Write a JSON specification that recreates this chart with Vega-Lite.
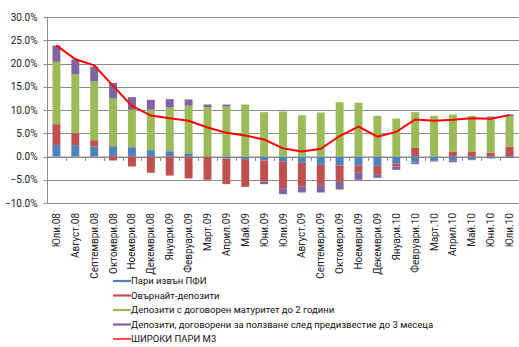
{
  "$schema": "https://vega.github.io/schema/vega-lite/v6.json",
  "width": 472,
  "height": 186,
  "autosize": {"type": "none"},
  "padding": {"left": 47, "top": 17, "right": 0, "bottom": 144},
  "background": "white",
  "config": {
    "font": "Roboto",
    "view": {"stroke": null},
    "axis": {"labelFont": "Roboto", "labelColor": "#222222", "labelFontSize": 10}
  },
  "data": {
    "values": [
      {"month": "Юли.08", "series": "Пари извън ПФИ", "value": 2.5},
      {"month": "Юли.08", "series": "Овърнайт-депозити", "value": 4.45},
      {"month": "Юли.08", "series": "Депозити с договорен матуритет до 2 години", "value": 13.41},
      {"month": "Юли.08", "series": "Депозити, договорени за ползване след предизвестие до 3 месеца", "value": 3.51},
      {"month": "Юли.08", "series": "ШИРОКИ ПАРИ М3", "value": 23.9},
      {"month": "Август.08", "series": "Пари извън ПФИ", "value": 2.44},
      {"month": "Август.08", "series": "Овърнайт-депозити", "value": 2.58},
      {"month": "Август.08", "series": "Депозити с договорен матуритет до 2 години", "value": 12.61},
      {"month": "Август.08", "series": "Депозити, договорени за ползване след предизвестие до 3 месеца", "value": 3.23},
      {"month": "Август.08", "series": "ШИРОКИ ПАРИ М3", "value": 20.9},
      {"month": "Септември.08", "series": "Пари извън ПФИ", "value": 2.15},
      {"month": "Септември.08", "series": "Овърнайт-депозити", "value": 1.36},
      {"month": "Септември.08", "series": "Депозити с договорен матуритет до 2 години", "value": 12.62},
      {"month": "Септември.08", "series": "Депозити, договорени за ползване след предизвестие до 3 месеца", "value": 3.22},
      {"month": "Септември.08", "series": "ШИРОКИ ПАРИ М3", "value": 19.6},
      {"month": "Октомври.08", "series": "Пари извън ПФИ", "value": 2.22},
      {"month": "Октомври.08", "series": "Овърнайт-депозити", "value": -0.86},
      {"month": "Октомври.08", "series": "Депозити с договорен матуритет до 2 години", "value": 10.25},
      {"month": "Октомври.08", "series": "Депозити, договорени за ползване след предизвестие до 3 месеца", "value": 3.37},
      {"month": "Октомври.08", "series": "ШИРОКИ ПАРИ М3", "value": 15.2},
      {"month": "Ноември.08", "series": "Пари извън ПФИ", "value": 2.0},
      {"month": "Ноември.08", "series": "Овърнайт-депозити", "value": -2.15},
      {"month": "Ноември.08", "series": "Депозити с договорен матуритет до 2 години", "value": 8.04},
      {"month": "Ноември.08", "series": "Депозити, договорени за ползване след предизвестие до 3 месеца", "value": 2.72},
      {"month": "Ноември.08", "series": "ШИРОКИ ПАРИ М3", "value": 10.9},
      {"month": "Декември.08", "series": "Пари извън ПФИ", "value": 1.36},
      {"month": "Декември.08", "series": "Овърнайт-депозити", "value": -3.5},
      {"month": "Декември.08", "series": "Депозити с договорен матуритет до 2 години", "value": 8.68},
      {"month": "Декември.08", "series": "Депозити, договорени за ползване след предизвестие до 3 месеца", "value": 2.15},
      {"month": "Декември.08", "series": "ШИРОКИ ПАРИ М3", "value": 8.8},
      {"month": "Януари.09", "series": "Пари извън ПФИ", "value": 1.15},
      {"month": "Януари.09", "series": "Овърнайт-депозити", "value": -4.1},
      {"month": "Януари.09", "series": "Депозити с договорен матуритет до 2 години", "value": 9.39},
      {"month": "Януари.09", "series": "Депозити, договорени за ползване след предизвестие до 3 месеца", "value": 1.79},
      {"month": "Януари.09", "series": "ШИРОКИ ПАРИ М3", "value": 8.25},
      {"month": "Февруари.09", "series": "Пари извън ПФИ", "value": 0.7},
      {"month": "Февруари.09", "series": "Овърнайт-депозити", "value": -4.72},
      {"month": "Февруари.09", "series": "Депозити с договорен матуритет до 2 години", "value": 10.23},
      {"month": "Февруари.09", "series": "Депозити, договорени за ползване след предизвестие до 3 месеца", "value": 1.33},
      {"month": "Февруари.09", "series": "ШИРОКИ ПАРИ М3", "value": 7.7},
      {"month": "Март.09", "series": "Пари извън ПФИ", "value": 0.05},
      {"month": "Март.09", "series": "Овърнайт-депозити", "value": -5.0},
      {"month": "Март.09", "series": "Депозити с договорен матуритет до 2 години", "value": 10.5},
      {"month": "Март.09", "series": "Депозити, договорени за ползване след предизвестие до 3 месеца", "value": 0.64},
      {"month": "Март.09", "series": "ШИРОКИ ПАРИ М3", "value": 6.25},
      {"month": "Април.09", "series": "Пари извън ПФИ", "value": -0.43},
      {"month": "Април.09", "series": "Овърнайт-депозити", "value": -5.52},
      {"month": "Април.09", "series": "Депозити с договорен матуритет до 2 години", "value": 10.75},
      {"month": "Април.09", "series": "Депозити, договорени за ползване след предизвестие до 3 месеца", "value": 0.43},
      {"month": "Април.09", "series": "ШИРОКИ ПАРИ М3", "value": 5.1},
      {"month": "Май.09", "series": "Пари извън ПФИ", "value": -0.57},
      {"month": "Май.09", "series": "Овърнайт-депозити", "value": -5.95},
      {"month": "Май.09", "series": "Депозити с договорен матуритет до 2 години", "value": 11.1},
      {"month": "Май.09", "series": "Депозити, договорени за ползване след предизвестие до 3 месеца", "value": 0.05},
      {"month": "Май.09", "series": "ШИРОКИ ПАРИ М3", "value": 4.5},
      {"month": "Юни.09", "series": "Пари извън ПФИ", "value": -0.86},
      {"month": "Юни.09", "series": "Овърнайт-депозити", "value": -4.52},
      {"month": "Юни.09", "series": "Депозити с договорен матуритет до 2 години", "value": 9.53},
      {"month": "Юни.09", "series": "Депозити, договорени за ползване след предизвестие до 3 месеца", "value": -0.57},
      {"month": "Юни.09", "series": "ШИРОКИ ПАРИ М3", "value": 3.65},
      {"month": "Юли.09", "series": "Пари извън ПФИ", "value": -1.08},
      {"month": "Юли.09", "series": "Овърнайт-депозити", "value": -5.87},
      {"month": "Юли.09", "series": "Депозити с договорен матуритет до 2 години", "value": 9.68},
      {"month": "Юли.09", "series": "Депозити, договорени за ползване след предизвестие до 3 месеца", "value": -1.15},
      {"month": "Юли.09", "series": "ШИРОКИ ПАРИ М3", "value": 1.75},
      {"month": "Август.09", "series": "Пари извън ПФИ", "value": -1.36},
      {"month": "Август.09", "series": "Овърнайт-депозити", "value": -5.09},
      {"month": "Август.09", "series": "Депозити с договорен матуритет до 2 години", "value": 8.89},
      {"month": "Август.09", "series": "Депозити, договорени за ползване след предизвестие до 3 месеца", "value": -1.29},
      {"month": "Август.09", "series": "ШИРОКИ ПАРИ М3", "value": 1.1},
      {"month": "Септември.09", "series": "Пари извън ПФИ", "value": -1.79},
      {"month": "Септември.09", "series": "Овърнайт-депозити", "value": -4.37},
      {"month": "Септември.09", "series": "Депозити с договорен матуритет до 2 години", "value": 9.46},
      {"month": "Септември.09", "series": "Депозити, договорени за ползване след предизвестие до 3 месеца", "value": -1.58},
      {"month": "Септември.09", "series": "ШИРОКИ ПАРИ М3", "value": 1.65},
      {"month": "Октомври.09", "series": "Пари извън ПФИ", "value": -1.94},
      {"month": "Октомври.09", "series": "Овърнайт-депозити", "value": -3.51},
      {"month": "Октомври.09", "series": "Депозити с договорен матуритет до 2 години", "value": 11.68},
      {"month": "Октомври.09", "series": "Депозити, договорени за ползване след предизвестие до 3 месеца", "value": -1.65},
      {"month": "Октомври.09", "series": "ШИРОКИ ПАРИ М3", "value": 4.4},
      {"month": "Ноември.09", "series": "Пари извън ПФИ", "value": -1.94},
      {"month": "Ноември.09", "series": "Овърнайт-депозити", "value": -1.57},
      {"month": "Ноември.09", "series": "Депозити с договорен матуритет до 2 години", "value": 11.54},
      {"month": "Ноември.09", "series": "Депозити, договорени за ползване след предизвестие до 3 месеца", "value": -1.51},
      {"month": "Ноември.09", "series": "ШИРОКИ ПАРИ М3", "value": 6.45},
      {"month": "Декември.09", "series": "Пари извън ПФИ", "value": -2.0},
      {"month": "Декември.09", "series": "Овърнайт-депозити", "value": -1.94},
      {"month": "Декември.09", "series": "Депозити с договорен матуритет до 2 години", "value": 8.75},
      {"month": "Декември.09", "series": "Депозити, договорени за ползване след предизвестие до 3 месеца", "value": -0.65},
      {"month": "Декември.09", "series": "ШИРОКИ ПАРИ М3", "value": 4.25},
      {"month": "Януари.10", "series": "Пари извън ПФИ", "value": -1.5},
      {"month": "Януари.10", "series": "Овърнайт-депозити", "value": -0.65},
      {"month": "Януари.10", "series": "Депозити с договорен матуритет до 2 години", "value": 8.17},
      {"month": "Януари.10", "series": "Депозити, договорени за ползване след предизвестие до 3 месеца", "value": -0.72},
      {"month": "Януари.10", "series": "ШИРОКИ ПАРИ М3", "value": 5.3},
      {"month": "Февруари.10", "series": "Пари извън ПФИ", "value": -1.29},
      {"month": "Февруари.10", "series": "Овърнайт-депозити", "value": 1.86},
      {"month": "Февруари.10", "series": "Депозити с договорен матуритет до 2 години", "value": 7.67},
      {"month": "Февруари.10", "series": "Депозити, договорени за ползване след предизвестие до 3 месеца", "value": -0.36},
      {"month": "Февруари.10", "series": "ШИРОКИ ПАРИ М3", "value": 7.95},
      {"month": "Март.10", "series": "Пари извън ПФИ", "value": -0.93},
      {"month": "Март.10", "series": "Овърнайт-депозити", "value": 0.05},
      {"month": "Март.10", "series": "Депозити с договорен матуритет до 2 години", "value": 8.7},
      {"month": "Март.10", "series": "Депозити, договорени за ползване след предизвестие до 3 месеца", "value": -0.15},
      {"month": "Март.10", "series": "ШИРОКИ ПАРИ М3", "value": 7.7},
      {"month": "Април.10", "series": "Пари извън ПФИ", "value": -0.79},
      {"month": "Април.10", "series": "Овърнайт-депозити", "value": 1.08},
      {"month": "Април.10", "series": "Депозити с договорен матуритет до 2 години", "value": 7.95},
      {"month": "Април.10", "series": "Депозити, договорени за ползване след предизвестие до 3 месеца", "value": -0.43},
      {"month": "Април.10", "series": "ШИРОКИ ПАРИ М3", "value": 7.9},
      {"month": "Май.10", "series": "Пари извън ПФИ", "value": -0.57},
      {"month": "Май.10", "series": "Овърнайт-депозити", "value": 1.08},
      {"month": "Май.10", "series": "Депозити с договорен матуритет до 2 години", "value": 7.67},
      {"month": "Май.10", "series": "Депозити, договорени за ползване след предизвестие до 3 месеца", "value": -0.22},
      {"month": "Май.10", "series": "ШИРОКИ ПАРИ М3", "value": 8.2},
      {"month": "Юни.10", "series": "Пари извън ПФИ", "value": -0.43},
      {"month": "Юни.10", "series": "Овърнайт-депозити", "value": 0.86},
      {"month": "Юни.10", "series": "Депозити с договорен матуритет до 2 години", "value": 7.53},
      {"month": "Юни.10", "series": "Депозити, договорени за ползване след предизвестие до 3 месеца", "value": 0.21},
      {"month": "Юни.10", "series": "ШИРОКИ ПАРИ М3", "value": 8.1},
      {"month": "Юли.10", "series": "Пари извън ПФИ", "value": -0.29},
      {"month": "Юли.10", "series": "Овърнайт-депозити", "value": 2.15},
      {"month": "Юли.10", "series": "Депозити с договорен матуритет до 2 години", "value": 6.45},
      {"month": "Юли.10", "series": "Депозити, договорени за ползване след предизвестие до 3 месеца", "value": 0.43},
      {"month": "Юли.10", "series": "ШИРОКИ ПАРИ М3", "value": 8.9}
    ]
  },
  "transform": [
    {"calculate": "indexof(['Пари извън ПФИ', 'Овърнайт-депозити', 'Депозити с договорен матуритет до 2 години', 'Депозити, договорени за ползване след предизвестие до 3 месеца', 'ШИРОКИ ПАРИ М3'], datum.series)", "as": "rank"}
  ],
  "encoding": {
    "x": {
      "field": "month",
      "type": "nominal",
      "sort": null,
      "scale": {"paddingInner": 0, "paddingOuter": 0},
      "axis": {
        "title": null,
        "labelAngle": -90,
        "offset": -46.5,
        "domain": true,
        "domainColor": "#8c8c8c",
        "ticks": true,
        "tickBand": "extent",
        "tickSize": 4,
        "tickColor": "#8c8c8c",
        "labelPadding": 52,
        "labelOverlap": false,
        "grid": false
      }
    },
    "y": {
      "field": "value",
      "type": "quantitative",
      "scale": {"domain": [-10, 30], "nice": false, "zero": false},
      "axis": {
        "title": null,
        "values": [-10, -5, 0, 5, 10, 15, 20, 25, 30],
        "labelExpr": "format(datum.value, '.1f') + '%'",
        "labelOverlap": false,
        "grid": true,
        "gridColor": "#8c8c8c",
        "gridWidth": 1,
        "domain": true,
        "domainColor": "#8c8c8c",
        "ticks": true,
        "tickSize": 4,
        "tickColor": "#8c8c8c",
        "labelPadding": 6
      }
    },
    "color": {
      "field": "series",
      "type": "nominal",
      "scale": {
        "domain": ["Пари извън ПФИ", "Овърнайт-депозити", "Депозити с договорен матуритет до 2 години", "Депозити, договорени за ползване след предизвестие до 3 месеца", "ШИРОКИ ПАРИ М3"],
        "range": ["#4F81BD", "#C0504D", "#9BBB59", "#8064A2", "#FF0000"]
      },
      "legend": {
        "title": null,
        "orient": "none",
        "legendX": 70,
        "legendY": 259,
        "direction": "vertical",
        "labelFont": "Roboto",
        "labelFontSize": 9.5,
        "labelColor": "#111111",
        "labelOffset": 4,
        "labelLimit": 400,
        "rowPadding": 4.5,
        "symbolSize": 100,
        "symbolStrokeWidth": 0,
        "symbolOpacity": 1,
        "encode": {
          "symbols": {
            "update": {
              "shape": {"signal": "datum.value === 'ШИРОКИ ПАРИ М3' ? 'M-1.8,-0.14H1.8V0.14H-1.8Z' : 'M-1.8,-0.22H1.8V0.22H-1.8Z'"},
              "fill": {"signal": "scale('color', datum.value)"},
              "strokeWidth": {"value": 0},
              "opacity": {"value": 1}
            }
          }
        }
      }
    }
  },
  "layer": [
    {
      "transform": [{"filter": "datum.series !== 'ШИРОКИ ПАРИ М3'"}],
      "mark": {"type": "bar", "width": {"band": 0.42}},
      "encoding": {
        "order": {"field": "rank", "type": "quantitative"}
      }
    },
    {
      "transform": [{"filter": "datum.series === 'ШИРОКИ ПАРИ М3'"}],
      "mark": {"type": "line", "strokeWidth": 2},
      "encoding": {}
    }
  ]
}
